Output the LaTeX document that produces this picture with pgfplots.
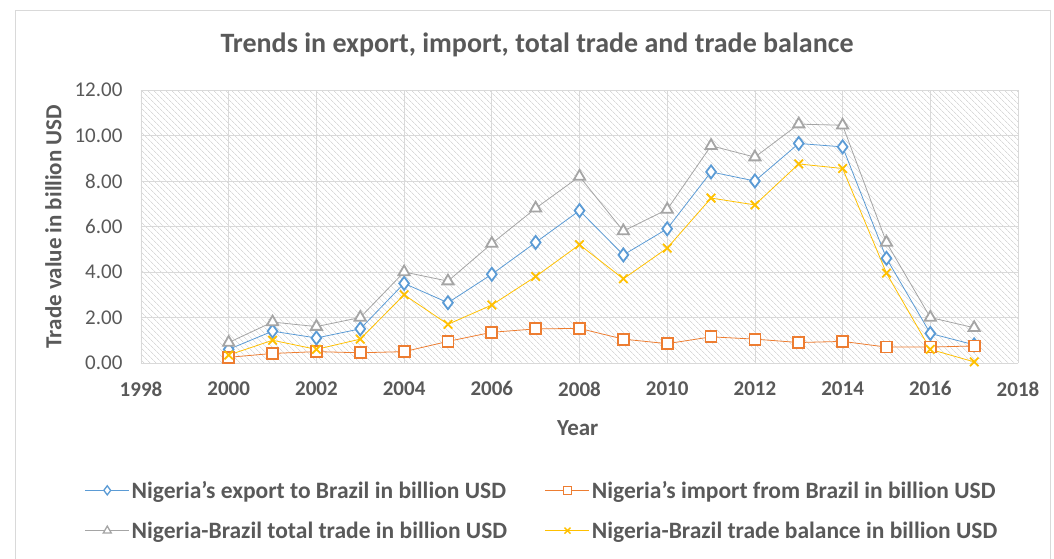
\documentclass[border=0pt]{standalone}
\usepackage{fontspec}
\setmainfont{Carlito}
\usepackage{pgfplots}
\pgfplotsset{compat=1.18}
\usetikzlibrary{patterns.meta}

\definecolor{cblue}{HTML}{5B9BD5}
\definecolor{corange}{HTML}{ED7D31}
\definecolor{cgray}{HTML}{A5A5A5}
\definecolor{cyellow}{HTML}{FFC000}
\definecolor{ctext}{HTML}{595959}
\definecolor{cgrid}{HTML}{D9D9D9}

\begin{document}
\begin{tikzpicture}[x=1pt,y=1pt]
% fixed page size and chart frame
\useasboundingbox (-141,-195) rectangle (913,363);
\draw[cgrid, line width=0.8pt] (-126,-205) rectangle (909,353);

\begin{axis}[
    at={(0,0)}, anchor=origin,
    scale only axis,
    width=877pt, height=273pt,
    xmin=1998, xmax=2018,
    ymin=0, ymax=12,
    xtick={1998,2000,...,2018},
    ytick={0,2,...,12},
    /pgf/number format/assume math mode=true,
    x tick label style={/pgf/number format/1000 sep={}, font=\fontsize{21}{24}\selectfont\bfseries\color{ctext}},
    y tick label style={/pgf/number format/.cd, fixed, fixed zerofill, precision=2, /tikz/.cd, font=\fontsize{21}{24}\selectfont\color{ctext}},
    xticklabel style={yshift=-15pt},
    yticklabel style={xshift=-15pt},
    grid=major,
    grid style={cgrid, line width=0.8pt},
    axis line style={draw=none},
    tick style={draw=none},
    axis background/.style={pattern={Lines[angle=-45, distance=4pt, line width=0.7pt]}, pattern color=black!15},
    xlabel={\textbf{Year}},
    ylabel={\textbf{Trade value in billion USD}},
    label style={font=\fontsize{23}{26}\selectfont\color{ctext}},
    xlabel style={at={(axis description cs:0.498,-0.238)}, anchor=center},
    ylabel style={at={(axis description cs:-0.1,0.5)}, anchor=center},
    legend columns=2,
    legend style={draw=none, fill=none, at={(-0.064,-0.425)}, anchor=north west,
        font=\fontsize{23.5}{26}\selectfont\bfseries\color{ctext},
        inner sep=0pt, outer sep=0pt,
        nodes={inner sep=2pt},
        /tikz/every even column/.append style={column sep=36pt},
        row sep=18pt},
    legend cell align=left,
    legend image code/.code={\draw[mark repeat=2, mark phase=2, #1, mark options={solid, fill=white, line width=1.3pt, scale=0.7}] plot coordinates {(0pt,0pt)(22pt,0pt)(44pt,0pt)};},
    every axis plot/.append style={line width=0.8pt, mark size=5.5pt, mark options={solid, line width=1.8pt, fill=white}},
]
\addplot[color=cblue, mark=diamond*, mark size=6.5pt] coordinates {
(2000,0.60)(2001,1.40)(2002,1.10)(2003,1.50)(2004,3.50)(2005,2.65)(2006,3.90)(2007,5.30)(2008,6.70)(2009,4.75)(2010,5.90)(2011,8.40)(2012,8.00)(2013,9.65)(2014,9.50)(2015,4.60)(2016,1.30)(2017,0.80)
};
\addlegendentry{Nigeria's export to Brazil in billion USD}
\addplot[color=corange, mark=square*] coordinates {
(2000,0.25)(2001,0.42)(2002,0.50)(2003,0.45)(2004,0.50)(2005,0.95)(2006,1.35)(2007,1.50)(2008,1.52)(2009,1.05)(2010,0.85)(2011,1.15)(2012,1.05)(2013,0.90)(2014,0.95)(2015,0.70)(2016,0.70)(2017,0.75)
};
\addlegendentry{Nigeria's import from Brazil in billion USD}
\addplot[color=cgray, mark=triangle*, mark size=6.5pt] coordinates {
(2000,0.90)(2001,1.80)(2002,1.60)(2003,2.00)(2004,4.00)(2005,3.60)(2006,5.25)(2007,6.80)(2008,8.20)(2009,5.80)(2010,6.75)(2011,9.55)(2012,9.05)(2013,10.50)(2014,10.45)(2015,5.30)(2016,2.00)(2017,1.55)
};
\addlegendentry{Nigeria-Brazil total trade in billion USD}
\addplot[color=cyellow, mark=x, mark size=6pt] coordinates {
(2000,0.35)(2001,1.00)(2002,0.60)(2003,1.05)(2004,3.00)(2005,1.70)(2006,2.55)(2007,3.80)(2008,5.20)(2009,3.70)(2010,5.05)(2011,7.25)(2012,6.95)(2013,8.75)(2014,8.55)(2015,3.95)(2016,0.60)(2017,0.05)
};
\addlegendentry{Nigeria-Brazil trade balance in billion USD}
\end{axis}

\node[font=\fontsize{28}{32}\selectfont\bfseries, text=ctext] at (396,318) {Trends in export, import, total trade and trade balance};
\end{tikzpicture}
\end{document}
